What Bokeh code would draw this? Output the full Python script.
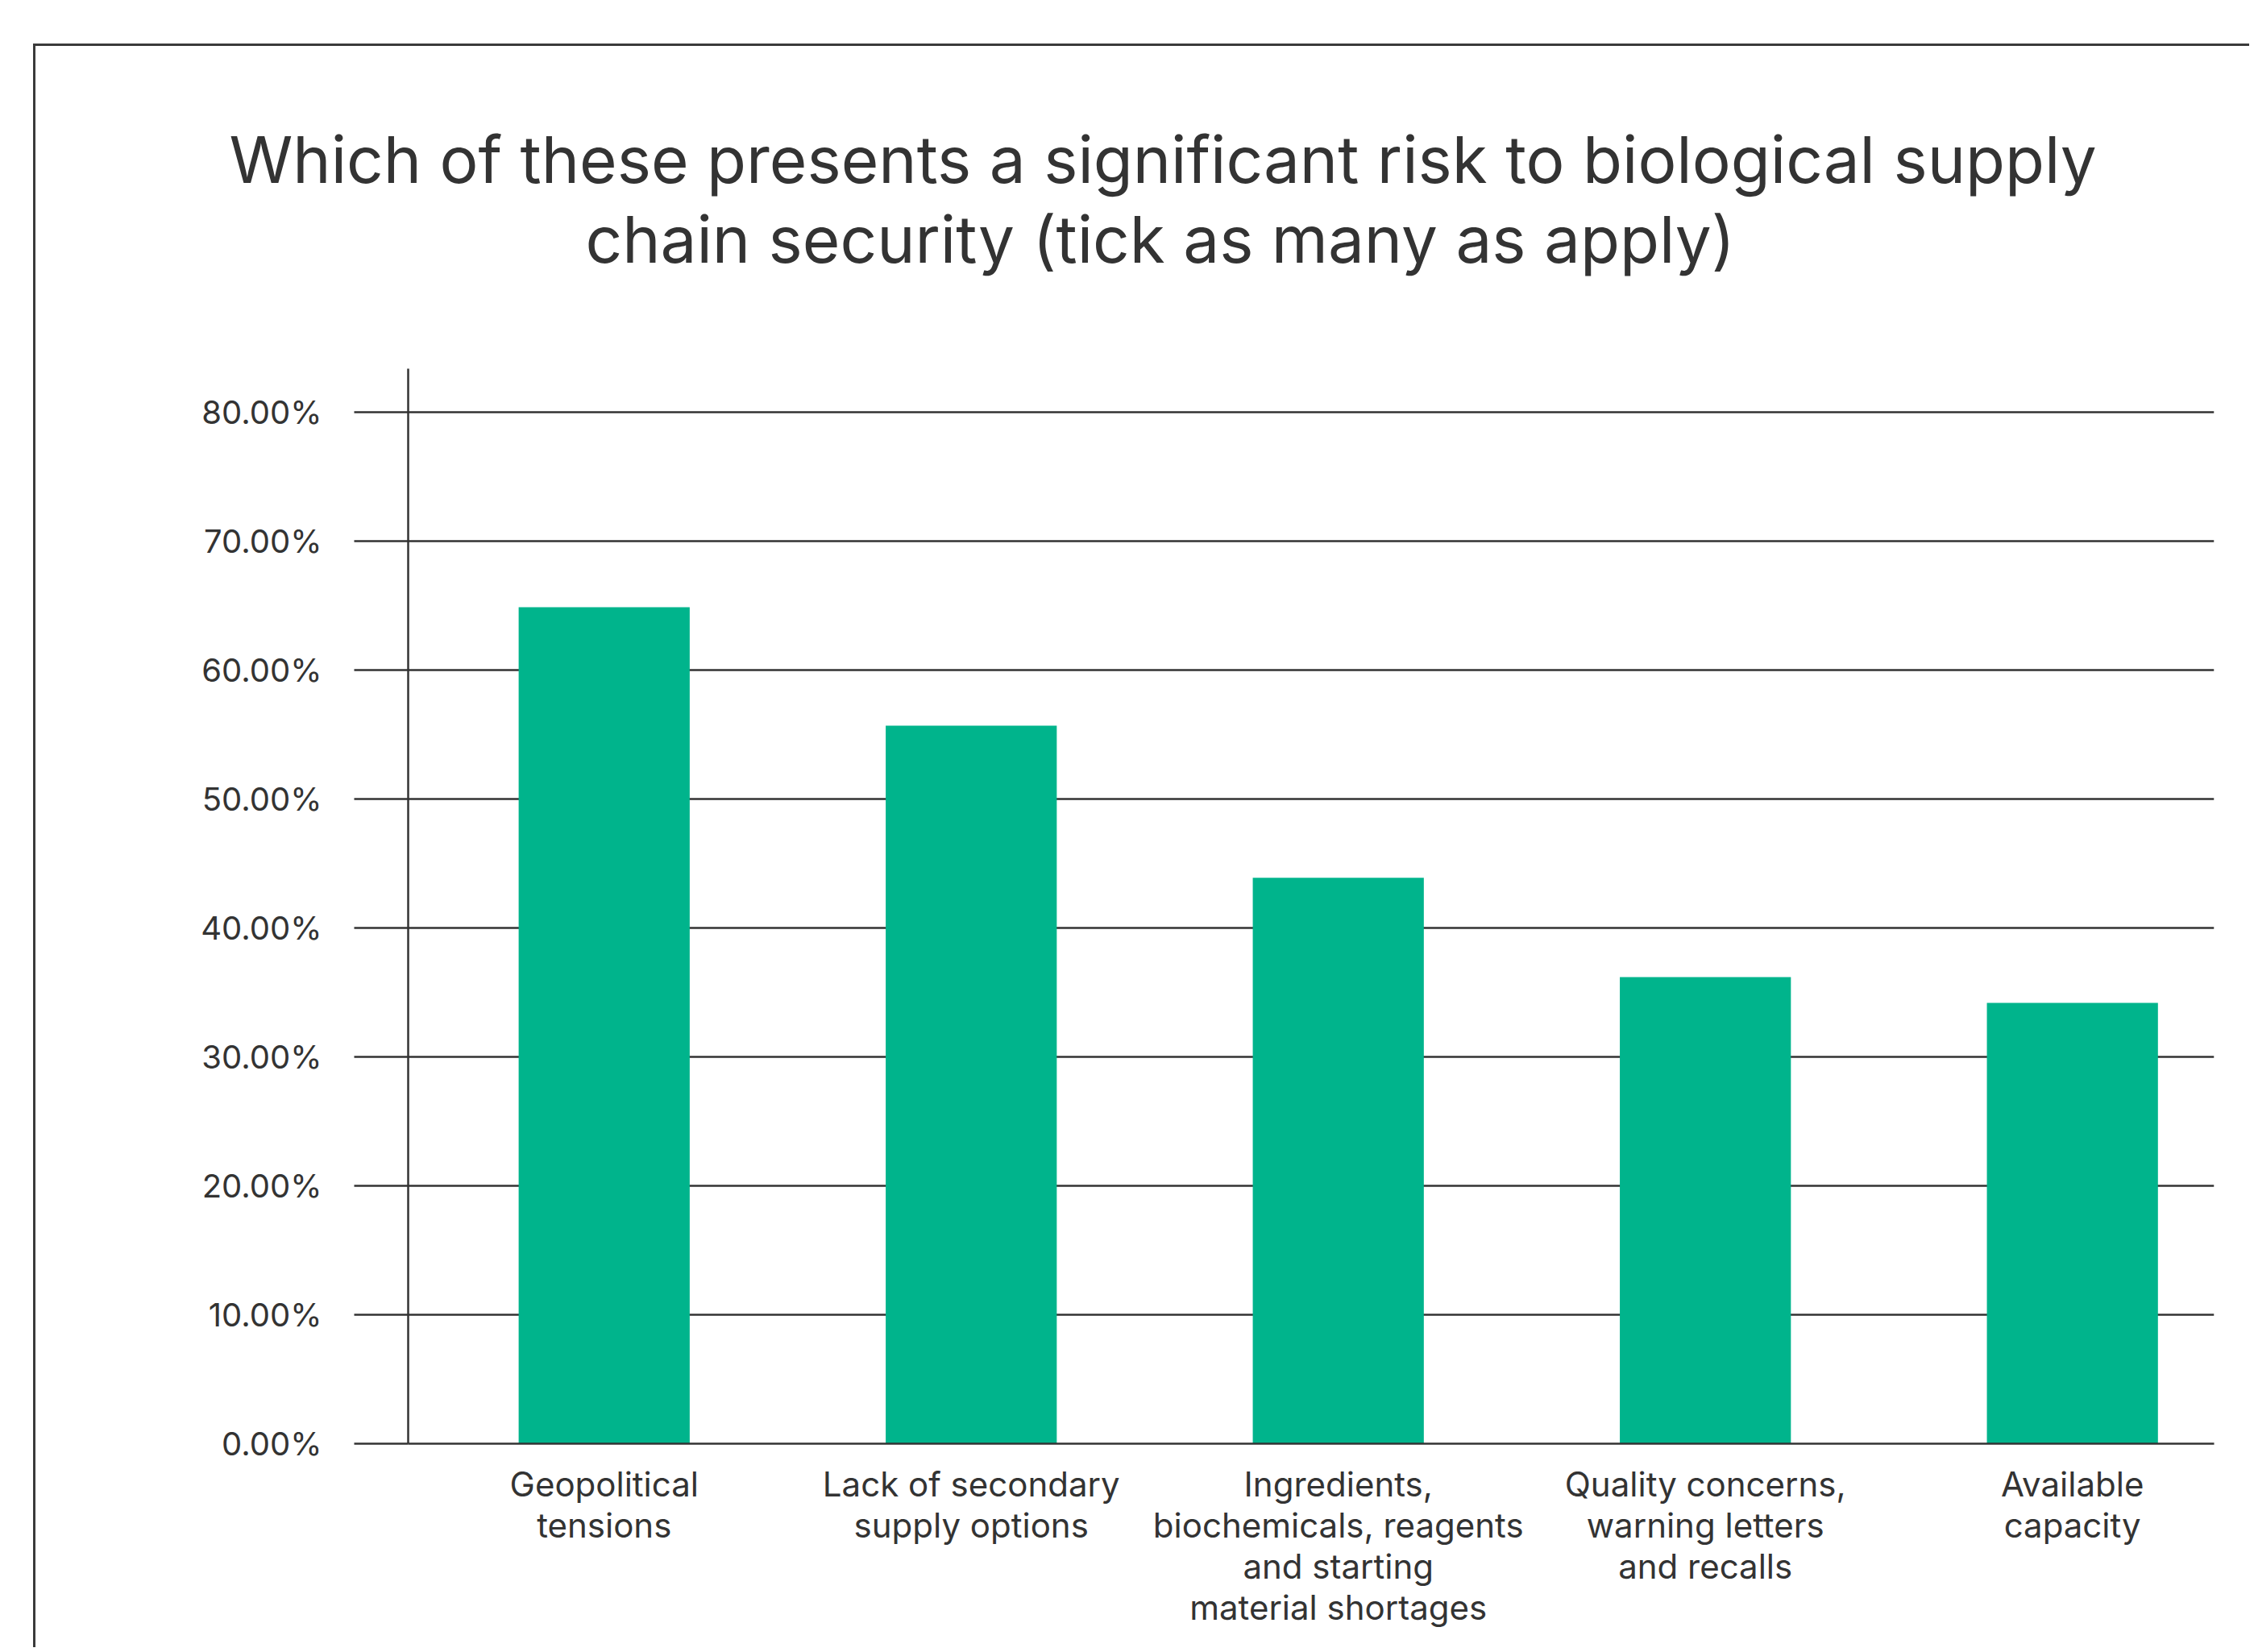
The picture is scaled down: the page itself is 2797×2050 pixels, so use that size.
from bokeh.plotting import figure
from bokeh.models import Range1d, FixedTicker, PrintfTickFormatter, Title, ColumnDataSource
from bokeh.embed import file_html
from bokeh.resources import INLINE

# ---- data ----
categories = [
    "Geopolitical tensions",
    "Lack of secondary supply options",
    "Ingredients, biochemicals, reagents and starting material shortages",
    "Quality concerns, warning letters and recalls",
    "Available capacity",
]
tick_labels = [
    "Geopolitical\ntensions",
    "Lack of secondary\nsupply options",
    "Ingredients,\nbiochemicals, reagents\nand starting\nmaterial shortages",
    "Quality concerns,\nwarning letters\nand recalls",
    "Available\ncapacity",
]
values = [64.9, 55.7, 43.9, 36.2, 34.2]
y_ticks = [0, 10, 20, 30, 40, 50, 60, 70, 80]
title_lines = [
    "Which of these presents a significant risk to biological supply",
    "chain security (tick as many as apply)",
]

FONT = "Inter"
INK = "#333333"
BAR = "#00b48c"

positions = list(range(len(categories)))
source = ColumnDataSource(dict(x=positions, top=values, cat=categories))

p = figure(
    width=2750, height=1990,
    x_range=Range1d(-0.534, 4.386), y_range=Range1d(0, 83.4),
    output_backend="svg", toolbar_location=None,
    min_border_left=462, min_border_right=47,
    min_border_top=400, min_border_bottom=256,
)
p.styles = {
    "margin-left": "41px", "margin-top": "54px",
    "border-left": "3px solid #3a3a3a", "border-top": "3px solid #3a3a3a",
}
p.outline_line_color = None
p.background_fill_color = "white"
p.border_fill_color = "white"

p.vbar(x="x", top="top", width=0.466, source=source, fill_color=BAR, line_color=None)

# y axis
yax = p.yaxis[0]
yax.ticker = FixedTicker(ticks=y_ticks)
yax.formatter = PrintfTickFormatter(format="%.2f%%")
yax.major_tick_out = 67
yax.major_tick_in = 0
yax.minor_tick_line_color = None
yax.axis_line_color = INK
yax.axis_line_width = 2.5
yax.major_tick_line_color = INK
yax.major_tick_line_width = 2.5
yax.major_label_text_font = FONT
yax.major_label_text_font_size = "40px"
yax.major_label_text_color = INK
yax.major_label_standoff = 40

p.ygrid.ticker = FixedTicker(ticks=y_ticks)
p.ygrid.grid_line_color = INK
p.ygrid.grid_line_width = 2.5
p.xgrid.visible = False

# x axis
xax = p.xaxis[0]
xax.ticker = FixedTicker(ticks=positions)
xax.major_label_overrides = {i: lab for i, lab in zip(positions, tick_labels)}
xax.major_tick_line_color = None
xax.major_tick_out = 0
xax.major_tick_in = 0
xax.minor_tick_line_color = None
xax.axis_line_color = INK
xax.axis_line_width = 2.5
xax.major_label_text_font = FONT
xax.major_label_text_font_size = "42px"
xax.major_label_text_color = INK
xax.major_label_text_line_height = 1.0
xax.major_label_standoff = 24

# title: blank spacer nearest the plot, then line 2, then line 1
title_style = dict(text_font=FONT, text_font_size="80px",
                   text_font_style="normal", text_color=INK)
p.add_layout(Title(text=" ", align="left", offset=0, standoff=14, **title_style), "above")
for txt, off in zip(reversed(title_lines), [726 - 506, 284 - 506]):
    p.add_layout(Title(text=txt, align="left", offset=off, standoff=0, **title_style), "above")

open("out.html", "w").write(file_html(p, INLINE))
